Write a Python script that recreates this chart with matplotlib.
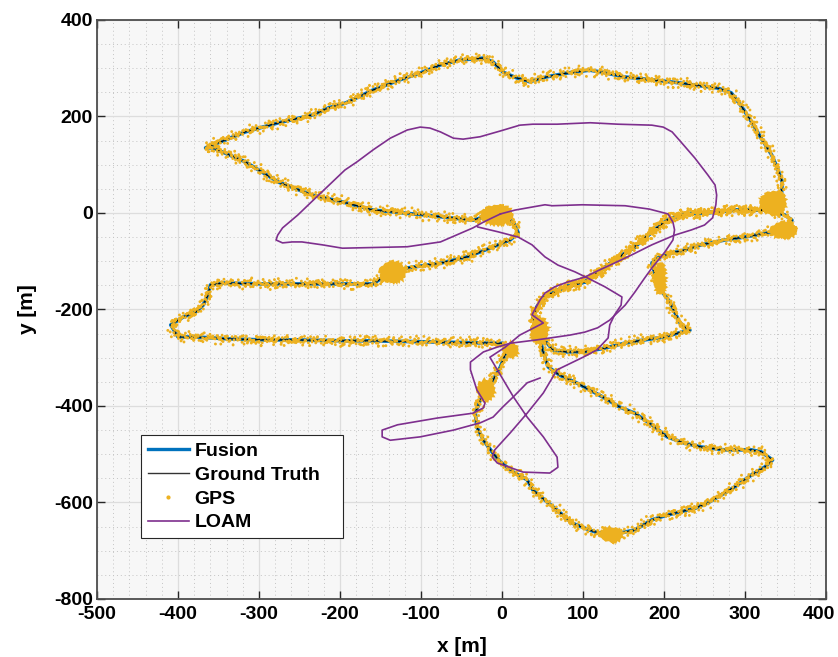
import numpy as np
import matplotlib
matplotlib.use("Agg")
import matplotlib.pyplot as plt
from matplotlib.lines import Line2D
from matplotlib.patches import Ellipse
from matplotlib.ticker import MultipleLocator
from matplotlib.transforms import ScaledTranslation

plt.rcParams['font.family'] = ['Liberation Sans', 'DejaVu Sans']
plt.rcParams['font.weight'] = 'bold'
plt.rcParams['axes.unicode_minus'] = False

# ground truth, split into the legs of the drive (metres)
# start -> west along the lower edge -> top edge -> down to the east stop
leg1_x = [-6, -36, -97, -159, -197, -234, -276, -317, -357, -366, -345, -317, -276, -234, -214, -193,
          -159, -126, -101, -76, -52, -23, -11, 1, 18, 34, 55, 80, 108, 123, 151, 185, 217, 238, 266,
          283, 296, 308, 320, 333, 340, 346, 345, 339]
leg1_y = [0, -15, -4, 6, 23, 37, 64, 106, 135, 135, 149, 168, 187, 203, 218, 228,
          255, 276, 290, 307, 317, 321, 313, 292, 280, 272, 282, 290, 296, 292, 282, 276, 270, 265, 259,
          249, 220, 189, 155, 120, 93, 64, 37, 17]
# east stop -> west along y~0 -> diagonal to the crossing
leg2_x = [339, 324, 287, 266, 225, 204, 185, 164, 143, 123, 102, 78, 53, 43, 38, 45]
leg2_y = [17, 6, 6, 2, -2, -15, -39, -70, -93, -118, -143, -153, -174, -195, -216, -240]
# east stop -> second stop -> west -> south along x~200 -> back to the crossing
leg3_x = [339, 333, 349, 358, 355, 348, 328, 299, 275, 246, 225, 209, 192, 185, 188, 192, 198, 207,
          213, 219, 225, 232, 217, 201, 176, 151, 127, 102, 80, 63, 47]
leg3_y = [17, 2, -4, -15, -25, -35, -41, -50, -56, -66, -77, -83, -93, -104, -122, -143, -164, -184,
          -205, -226, -236, -243, -249, -257, -263, -270, -280, -288, -288, -284, -253]
# crossing -> south-east tip -> south stop -> north-west to the junction
leg4_x = [45, 50, 57, 71, 92, 124, 145, 164, 185, 204, 225, 246, 275, 308, 320, 334, 324, 308, 287,
          266, 254, 238, 204, 185, 164, 135, 115, 108, 87, 68, 50, 38, 31, 14, -2, -11, -23, -31,
          -33, -27, -18, -11, -2, 6, 1]
leg4_y = [-240, -284, -319, -336, -352, -381, -402, -415, -439, -464, -477, -485, -491, -491, -495,
          -512, -527, -543, -568, -589, -601, -612, -626, -636, -657, -667, -661, -657, -643, -616,
          -591, -574, -553, -537, -516, -498, -471, -444, -415, -388, -367, -346, -319, -284, -270]
# junction -> west -> lower-left tip -> east -> back to the start
leg5_x = [1, -2, -97, -159, -193, -255, -296, -337, -378, -400, -405, -409, -394, -378, -369, -363,
          -360, -345, -296, -234, -193, -159, -138, -117, -76, -43, -15, 10, 20, 14, -6]
leg5_y = [-270, -270, -267, -265, -265, -263, -263, -261, -257, -257, -243, -232, -216, -205, -191,
          -170, -149, -145, -147, -147, -147, -147, -122, -114, -104, -91, -73, -56, -41, -19, 0]

# GPS stops and slow stretches: centre and spread (metres)
stop_x = [-6, 335, 348, 46, -20, -135, 135, 195, 12]
stop_y = [-4, 21, -35, -243, -367, -122, -667, -135, -284]
stop_w = [36, 28, 30, 18, 18, 30, 24, 11, 12]
stop_h = [36, 44, 28, 50, 38, 38, 26, 60, 24]

# LOAM odometry, first pass: west loop, arch, crossing, small triangle, back up north-west
loam1_x = [-2, -12, -23, -36, -76, -117, -197, -222, -247, -259, -271, -279, -277, -271, -252, -239,
           -194, -179, -159, -138, -117, -101, -89, -76, -60, -48, -27, -2, 22, 38, 68, 109, 143,
           185, 199, 210, 222, 238, 254, 263, 265, 264, 260, 250, 234, 213, 185, 160, 136, 118, 102,
           81, 65, 53, 47, 37, 51, 22, 4, -15, 14, 31, 51, 68, 69, 59, 26, -6, -12, -9, 10, 31, 51,
           68, 100, 117, 131, 133, 139, 147, 148, 127, 106, 90, 69, 53, 37, 20, -5, -30]
loam1_y = [-2, -10, -19, -31, -60, -70, -73, -66, -60, -60, -62, -56, -46, -31, -4, 17,
           89, 106, 131, 155, 172, 178, 176, 168, 155, 153, 158, 170, 182, 184, 184, 187, 184,
           182, 178, 168, 145, 114, 79, 58, 37, 17, -10, -25, -35, -46, -66, -87, -106, -120, -133,
           -143, -153, -166, -180, -211, -228, -253, -278, -299, -381, -423, -464, -506, -527, -539,
           -537, -518, -506, -491, -456, -415, -373, -325, -299, -284, -259, -232, -211, -191, -174,
           -153, -135, -122, -108, -91, -66, -50, -39, -29]
# second pass: east, south, then the long westward loop
loam2_x = [-2, 16, 53, 62, 99, 152, 182, 205, 211, 213, 211, 201, 185, 176, 164, 152, 133, 118, 102,
           84, 43, 10, -6, -23, -39, -39, -31, -21, -23, -36, -80, -129, -148, -148, -138, -101, -60,
           -27, -11, 1, 14, 31, 47]
loam2_y = [-2, 6, 17, 15, 17, 15, 8, -2, -19, -35, -56, -81, -114, -135, -164, -191, -222, -238,
           -247, -253, -263, -270, -278, -288, -309, -325, -367, -394, -404, -415, -425, -439, -450,
           -464, -471, -464, -450, -435, -423, -402, -381, -352, -342]

legs = [(leg1_x, leg1_y), (leg2_x, leg2_y), (leg3_x[::-1], leg3_y[::-1]),
        (leg2_x, leg2_y), (leg4_x, leg4_y), (leg5_x, leg5_y)]
truth_x = np.concatenate([np.asarray(lx, float) for lx, _ in legs])
truth_y = np.concatenate([np.asarray(ly, float) for _, ly in legs])

blue = '#0072BD'
orange = '#EDB120'
purple = '#7E2F8E'

fig = plt.figure(figsize=(8.38, 6.57), dpi=100)
ax = fig.add_axes([0.1158, 0.0883, 0.8699, 0.8813])
ax.set_facecolor('#F7F7F7')

ax.plot(truth_x, truth_y, color=blue, lw=2.6, solid_capstyle='round', zorder=3)
ax.plot(truth_x, truth_y, color='black', lw=0.8, zorder=4)

# GPS fixes: dotted track, roughened so the fixes scatter around the road
for dash, sketch in [((0, (0.05, 1.9)), (3.5, 2.0, 3.0)), ((0.8, (0.05, 3.0)), (6.0, 3.0, 3.0))]:
    gps, = ax.plot(truth_x, truth_y, color=orange, lw=2.1, linestyle=dash,
                   dash_capstyle='round', zorder=5)
    gps.set_sketch_params(*sketch)
for sx, sy, sw, sh in zip(stop_x, stop_y, stop_w, stop_h):
    blob = Ellipse((sx, sy), sw, sh, facecolor=orange, edgecolor=orange, lw=2.0, zorder=5)
    blob.set_sketch_params(1.5, 2.0, 2.0)
    ax.add_patch(blob)

ax.plot(loam1_x, loam1_y, color=purple, lw=1.2, zorder=6)
ax.plot(loam2_x, loam2_y, color=purple, lw=1.2, zorder=6)

ax.set_xlim(-500, 400)
ax.set_ylim(-800, 400)
ax.xaxis.set_major_locator(MultipleLocator(100))
ax.yaxis.set_major_locator(MultipleLocator(200))
ax.xaxis.set_minor_locator(MultipleLocator(20))
ax.yaxis.set_minor_locator(MultipleLocator(50))
ax.grid(which='major', color='#DDDDDD', lw=0.9, ls='-', zorder=0)
ax.grid(which='minor', color='#C4C4C4', lw=0.7, ls=(0, (1, 3)), zorder=0)
ax.set_axisbelow(True)
ax.tick_params(which='major', direction='in', length=6, width=1.0, color='#262626',
               top=True, right=True, labelsize=14)
ax.tick_params(axis='x', pad=5)
ax.tick_params(axis='y', pad=3)
ax.tick_params(which='minor', length=0)
for sp in ax.spines.values():
    sp.set_color('#4D4D4D')
    sp.set_linewidth(1.3)

# keep the x = 400 tick label inside the canvas
for tick, loc in zip(ax.xaxis.get_major_ticks(), ax.xaxis.get_majorticklocs()):
    if np.isclose(loc, 400):
        lbl = tick.label1
        lbl.set_transform(lbl.get_transform() + ScaledTranslation(-5 / 72, 0, fig.dpi_scale_trans))

ax.set_xlabel('x [m]', fontsize=15, fontweight='bold', labelpad=10)
ax.set_ylabel('y [m]', fontsize=15, fontweight='bold', labelpad=12)

handles = [Line2D([], [], color=blue, lw=2.4),
           Line2D([], [], color='#333333', lw=1.0),
           Line2D([], [], color=orange, ls='none', marker='.', markersize=4),
           Line2D([], [], color=purple, lw=1.2)]
leg = ax.legend(handles, ['Fusion', 'Ground Truth', 'GPS', 'LOAM'], loc='lower left',
                bbox_to_anchor=(0.0604, 0.105, 0.277, 0.17), mode='expand',
                prop={'size': 14, 'weight': 'bold'},
                fancybox=False, framealpha=1, edgecolor='#262626', handlelength=2.1,
                handletextpad=0.3, labelspacing=0.32, borderpad=0.35, borderaxespad=0)
leg.get_frame().set_linewidth(0.8)

fig.savefig('out.png', dpi=100)
